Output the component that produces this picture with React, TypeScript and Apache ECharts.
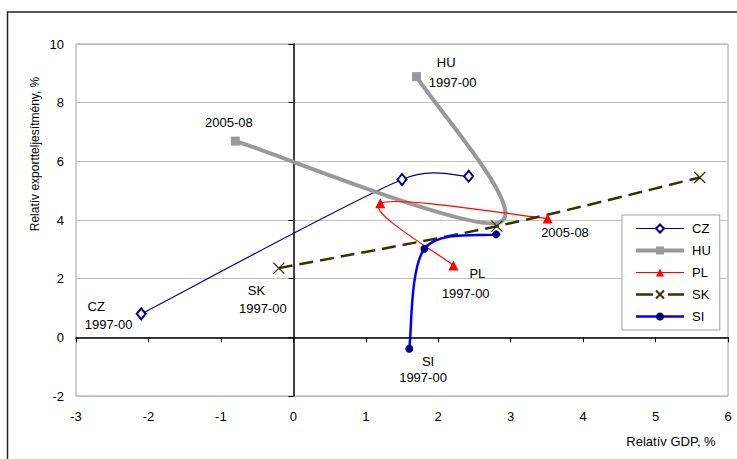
import React, { useEffect, useRef } from "react";
import * as echarts from "echarts";

const periods = ["1997-00", "2001-04", "2005-08"];
const seriesNames = ["CZ", "HU", "PL", "SK", "SI"];

const czGdp = [-2.1, 1.5, 2.42];
const czExport = [0.8, 5.38, 5.49];
const huGdp = [1.7, 2.85, -0.8];
const huExport = [8.89, 3.92, 6.69];
const plGdp = [2.21, 1.2, 3.51];
const plExport = [2.45, 4.57, 4.05];
const skGdp = [-0.2, 2.81, 5.61];
const skExport = [2.36, 3.79, 5.45];
const siGdp = [1.6, 1.81, 2.8];
const siExport = [-0.39, 3.02, 3.51];

const annotationTexts = ["HU", "1997-00", "2005-08", "CZ", "1997-00", "SK", "1997-00", "PL", "1997-00", "SI", "1997-00", "2005-08"];
const annotationGdp = [2.11, 2.2, -0.89, -2.72, -2.55, -0.51, -0.42, 2.54, 2.38, 1.86, 1.79, 3.75];
const annotationExport = [9.36, 8.68, 7.31, 1.05, 0.43, 1.59, 0.98, 2.18, 1.49, -0.83, -1.38, 3.58];

const xTitle = "Relatív GDP, %";
const yTitle = "Relatív exportteljesítmény, %";

const FONT = '"Liberation Sans", Arial, sans-serif';

function pairs(xs: number[], ys: number[]) {
  return xs.map((x, i) => [x, ys[i]]);
}

type Style = {
  color: string;
  width: number;
  dash?: number[];
  legendDash?: number[];
  symbol: string;
  symbolSize: any;
  itemStyle: any;
};

const X_PATH = "path://M0 0 L10 10 M10 0 L0 10";

const styles: Record<string, Style> = {
  CZ: {
    color: "#000080",
    width: 1.2,
    symbol: "emptyDiamond",
    symbolSize: [9, 11],
    itemStyle: { color: "#000080", borderColor: "#000080", borderWidth: 1.2 },
  },
  HU: {
    color: "#999999",
    width: 4,
    symbol: "rect",
    symbolSize: 9,
    itemStyle: { color: "#999999" },
  },
  PL: {
    color: "#ff0000",
    width: 1.2,
    symbol: "triangle",
    symbolSize: 10,
    itemStyle: { color: "#ff0000" },
  },
  SK: {
    color: "#333300",
    width: 2.5,
    dash: [14, 7],
    legendDash: [17, 15],
    symbol: X_PATH,
    symbolSize: 11,
    itemStyle: { color: "#333300", borderColor: "#333300", borderWidth: 1.3, borderType: "solid" },
  },
  SI: {
    color: "#0000ff",
    width: 2.5,
    symbol: "circle",
    symbolSize: 8,
    itemStyle: { color: "#000080" },
  },
};

const dataSets: Record<string, [number[], number[]]> = {
  CZ: [czGdp, czExport],
  HU: [huGdp, huExport],
  PL: [plGdp, plExport],
  SK: [skGdp, skExport],
  SI: [siGdp, siExport],
};

function clampVec(vx: number, vy: number, maxLen: number) {
  const len = Math.sqrt(vx * vx + vy * vy);
  if (len > maxLen && len > 0) {
    const k = maxLen / len;
    return [vx * k, vy * k];
  }
  return [vx, vy];
}

// Excel-like smoothed curve (Catmull-Rom -> cubic Bezier) through the data points,
// positioned through the chart's own axes (api.coord).
function curveSeries(name: string) {
  const [xs, ys] = dataSets[name];
  const st = styles[name];
  return {
    name: name + " curve",
    type: "custom",
    coordinateSystem: "cartesian2d",
    silent: true,
    z: 1,
    data: pairs(xs, ys),
    encode: { x: 0, y: 1 },
    renderItem: (params: any, api: any) => {
      if (params.dataIndex !== 0) return null;
      const p = xs.map((x, k) => api.coord([x, ys[k]]));
      const n = p.length;
      let d = `M${p[0][0]},${p[0][1]}`;
      for (let i = 0; i < n - 1; i++) {
        const p0 = p[Math.max(i - 1, 0)];
        const p1 = p[i];
        const p2 = p[i + 1];
        const p3 = p[Math.min(i + 2, n - 1)];
        const segLen = Math.hypot(p2[0] - p1[0], p2[1] - p1[1]);
        const t1 = clampVec((p2[0] - p0[0]) / 6, (p2[1] - p0[1]) / 6, segLen * 0.5);
        const t2 = clampVec((p3[0] - p1[0]) / 6, (p3[1] - p1[1]) / 6, segLen * 0.5);
        const c1x = p1[0] + t1[0];
        const c1y = p1[1] + t1[1];
        const c2x = p2[0] - t2[0];
        const c2y = p2[1] - t2[1];
        d += ` C${c1x},${c1y} ${c2x},${c2y} ${p2[0]},${p2[1]}`;
      }
      return {
        type: "path",
        shape: { pathData: d },
        style: {
          fill: "none",
          stroke: st.color,
          lineWidth: st.width,
          lineDash: st.dash || null,
          lineJoin: "round",
        },
      };
    },
  };
}

function markerSeries(name: string) {
  const [xs, ys] = dataSets[name];
  const st = styles[name];
  const data = pairs(xs, ys).map((v, i) =>
    name === "HU" && i === 1 ? { value: v, symbol: "none" } : { value: v }
  );
  return {
    name,
    type: "line",
    data,
    smooth: false,
    symbol: st.symbol,
    symbolSize: st.symbolSize,
    showAllSymbol: true,
    lineStyle: { color: st.color, width: 0, type: st.dash || "solid" },
    itemStyle: st.itemStyle,
    z: 3,
  };
}

export default function App() {
  const ref = useRef<HTMLDivElement>(null);
  useEffect(() => {
    if (!ref.current) return;
    const chart = echarts.init(ref.current, null, { renderer: "svg" });
    const option: any = {
      animation: false,
      backgroundColor: "#ffffff",
      grid: {
        left: 76,
        right: 9,
        top: 44,
        bottom: 63,
        show: true,
        borderColor: "#a0a0a0",
        borderWidth: 1,
        backgroundColor: "#ffffff",
        containLabel: false,
        outerBoundsMode: "none",
      },
      xAxis: [
        {
          type: "value",
          min: -3,
          max: 6,
          interval: 1,
          position: "bottom",
          axisLine: { show: false, onZero: false },
          axisTick: { show: false },
          splitLine: { show: false },
          axisLabel: { color: "#000", fontSize: 13, fontFamily: FONT, margin: 14 },
        },
        {
          type: "value",
          min: -3,
          max: 6,
          interval: 1,
          position: "bottom",
          axisLine: { show: true, onZero: true, onZeroAxisIndex: 0, lineStyle: { color: "#000", width: 1.5 } },
          axisTick: { show: true, inside: false, length: 5, lineStyle: { color: "#000", width: 1 } },
          splitLine: { show: false },
          axisLabel: { show: false },
        },
      ],
      yAxis: [
        {
          type: "value",
          min: -2,
          max: 10,
          interval: 2,
          position: "left",
          axisLine: { show: false, onZero: false },
          axisTick: { show: false },
          splitLine: { show: true, lineStyle: { color: "#c0c0c0", width: 1 } },
          axisLabel: { color: "#000", fontSize: 13, fontFamily: FONT, margin: 12 },
        },
        {
          type: "value",
          min: -2,
          max: 10,
          interval: 2,
          position: "left",
          axisLine: { show: true, onZero: true, onZeroAxisIndex: 0, lineStyle: { color: "#000", width: 1.5 } },
          axisTick: { show: true, inside: false, length: 5, lineStyle: { color: "#000", width: 1 } },
          splitLine: { show: false },
          axisLabel: { show: false },
        },
      ],
      legend: {
        data: seriesNames.map((n) => ({
          name: n,
          lineStyle: {
            width: styles[n].width,
            color: styles[n].color,
            opacity: 1,
            type: styles[n].legendDash || "solid",
          },
        })),
        orient: "vertical",
        left: 622,
        top: 215,
        padding: [7, 9, 7, 12],
        itemGap: 9,
        itemWidth: 48,
        itemHeight: 10,
        textStyle: { color: "#000", fontSize: 13, fontFamily: FONT, padding: [0, 0, 0, 3] },
        backgroundColor: "#ffffff",
        borderColor: "#a0a0a0",
        borderWidth: 1,
        borderRadius: 0,
      },
      series: [
        ...seriesNames.map(curveSeries),
        ...seriesNames.map(markerSeries),
        {
          name: "labels",
          type: "custom",
          coordinateSystem: "cartesian2d",
          silent: true,
          z: 10,
          data: pairs(annotationGdp, annotationExport),
          encode: { x: 0, y: 1 },
          renderItem: (params: any, api: any) => {
            const pt = api.coord([api.value(0), api.value(1)]);
            return {
              type: "text",
              x: pt[0],
              y: pt[1],
              style: {
                text: annotationTexts[params.dataIndex],
                fill: "#000",
                fontSize: 13,
                fontFamily: FONT,
                align: "center",
                verticalAlign: "middle",
              },
            };
          },
        },
      ],
      graphic: [
        {
          type: "rect",
          shape: { x: 7.5, y: 12, width: 760, height: 480 },
          style: { fill: "none", stroke: "#222", lineWidth: 1.5 },
          silent: true,
          z: -1,
        },
        {
          type: "text",
          x: 35,
          y: 154,
          rotation: Math.PI / 2,
          style: {
            text: yTitle,
            fill: "#000",
            fontSize: 12,
            fontFamily: FONT,
            align: "center",
            verticalAlign: "middle",
          },
        },
        {
          type: "text",
          x: 671,
          y: 441,
          style: {
            text: xTitle,
            fill: "#000",
            fontSize: 13,
            fontFamily: FONT,
            align: "center",
            verticalAlign: "middle",
          },
        },
      ],
    };
    chart.setOption(option);
    return () => chart.dispose();
  }, []);
  return (
    <div
      ref={ref}
      style={{ position: "absolute", left: 0, top: 0, width: 737, height: 459 }}
    />
  );
}
